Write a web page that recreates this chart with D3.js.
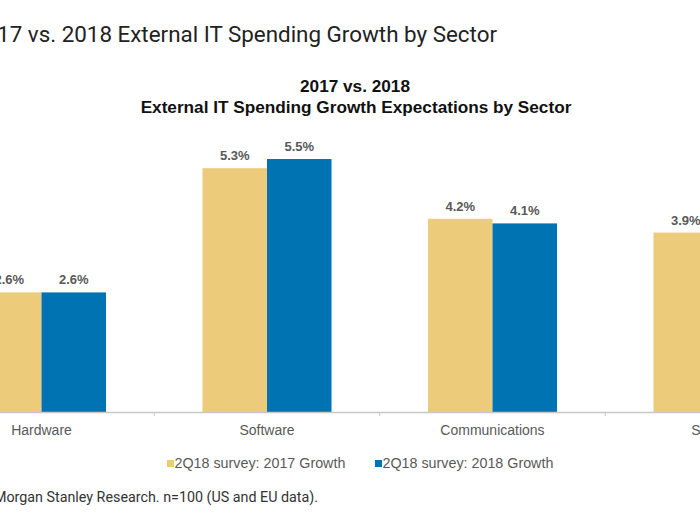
<!DOCTYPE html>
<html><head><meta charset="utf-8">
<script src="https://cdn.jsdelivr.net/npm/d3@7"></script>
<style>body{margin:0;background:#fff;overflow:hidden}svg{display:block}</style>
</head><body>
<svg id="c" width="700" height="525"></svg>
<script>
const categories = ["Hardware", "Software", "Communications", "Services"];
const seriesNames = ["2Q18 survey: 2017 Growth", "2Q18 survey: 2018 Growth"];
const growth2017 = [2.6, 5.3, 4.2, 3.9];
const growth2018 = [2.6, 5.5, 4.1, 3.8];
const colors = ["#ECCB7A", "#0073B2"];

const svg = d3.select("#c");
const baseY = 412;
const x0 = d3.scaleBand().domain(categories).range([-71.25, 830.75]).padding(0);
const y = d3.scaleLinear().domain([0, 6]).range([baseY, 136]);
const barW = 64.5;
const x1 = d3.scaleBand().domain([0, 1]).range([-barW, barW]);

// page title (cropped at left)
svg.append("text").attr("x", 497).attr("y", 42).attr("text-anchor", "end")
  .attr("font-family", "Roboto").attr("font-size", 22.4).attr("fill", "#222")
  .text("2017 vs. 2018 External IT Spending Growth by Sector");

// chart title
const ct = svg.append("text").attr("text-anchor", "middle").attr("font-family", "Liberation Sans, Arial")
  .attr("font-weight", "bold").attr("font-size", 17.2).attr("fill", "#111");
ct.append("tspan").attr("x", 355).attr("y", 92).text("2017 vs. 2018");
ct.append("tspan").attr("x", 356).attr("y", 113).text("External IT Spending Growth Expectations by Sector");

const data = categories.map((c, i) => ({c, v: [growth2017[i], growth2018[i]]}));
const g = svg.append("g");
const grp = g.selectAll("g.cat").data(data).join("g")
  .attr("transform", d => `translate(${x0(d.c) + x0.bandwidth() / 2},0)`);
grp.selectAll("rect").data(d => d.v.map((v, k) => ({v, k}))).join("rect")
  .attr("x", d => x1(d.k)).attr("width", x1.bandwidth())
  .attr("y", d => y(d.v)).attr("height", d => baseY - y(d.v))
  .attr("fill", d => colors[d.k]);
grp.selectAll("text.val").data(d => d.v.map((v, k) => ({v, k}))).join("text")
  .attr("class", "val").attr("x", d => x1(d.k) + x1.bandwidth() / 2).attr("y", d => y(d.v) - 8)
  .attr("text-anchor", "middle").attr("font-family", "Liberation Sans, Arial").attr("font-weight", "bold")
  .attr("font-size", 13).attr("fill", "#595959").text(d => d.v.toFixed(1) + "%");

// axis
const axis = d3.axisBottom(x0).tickSize(0).tickPadding(0).tickFormat("");
const ax = svg.append("g").attr("transform", `translate(0,${baseY})`).call(axis);
ax.select(".domain").attr("stroke", "#c8c8c8").attr("stroke-width", 1.5);
ax.selectAll(".tick").remove();
const bounds = categories.slice(1).map(c => x0(c));
ax.selectAll("line.sep").data(bounds).join("line").attr("class", "sep")
  .attr("x1", d => d).attr("x2", d => d).attr("y1", 0).attr("y2", 4).attr("stroke", "#c8c8c8");
svg.selectAll("text.cat").data(categories).join("text").attr("class", "cat")
  .attr("x", d => x0(d) + x0.bandwidth() / 2).attr("y", 435).attr("text-anchor", "middle")
  .attr("font-family", "Liberation Sans, Arial").attr("font-size", 14).attr("fill", "#595959").text(d => d);

// legend
const lx = [167, 375];
seriesNames.forEach((n, k) => {
  svg.append("rect").attr("x", lx[k]).attr("y", 460).attr("width", 7).attr("height", 7).attr("fill", colors[k]);
  svg.append("text").attr("x", lx[k] + 7.5).attr("y", 468).attr("font-family", "Liberation Sans, Arial")
    .attr("font-size", 14.3).attr("fill", "#595959").text(n);
});

// footer
svg.append("text").attr("x", 318).attr("y", 502).attr("text-anchor", "end")
  .attr("font-family", "Roboto").attr("font-size", 14.3).attr("fill", "#333")
  .text("Source: AlphaWise, Morgan Stanley Research. n=100 (US and EU data).");
</script>
</body></html>
